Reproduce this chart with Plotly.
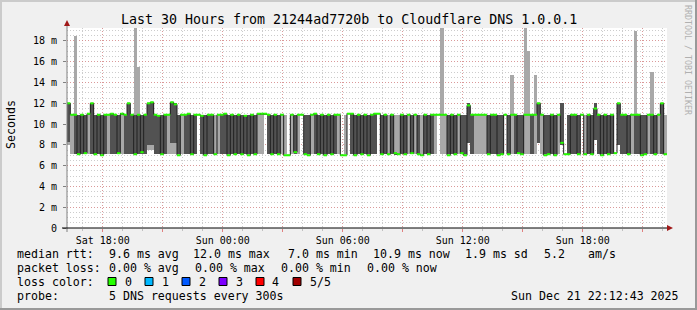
import plotly.graph_objects as go
from datetime import datetime, timedelta

# ---------------- data (10-minute steps) ----------------
rtt_min = [
    8.0, 7.1, 7.1, 7.1, 7.1, 7.1, 7.1, 7.1, 7.1, 7.1, 7.1, 7.1,
    7.1, 7.1, 7.1, 7.1, 7.1, 7.1, 7.1, 7.1, 7.1, 7.1, 7.1, 7.1,
    7.5, 7.5, 7.1, 7.1, 7.1, 7.1, 7.1, 7.1, 7.1, 7.1, 7.1, 7.1,
    7.1, 7.1, 7.1, 10.9, 7.1, 7.1, 7.1, 7.1, 7.1, 7.1, 7.1, 7.1,
    7.1, 7.1, 7.1, 7.1, 7.1, 7.1, 7.1, 7.1, 7.1, 7.1, 7.1, 10.9,
    7.1, 7.1, 7.1, 7.1, 7.1, 7.1, 7.0, 7.1, 7.1, 7.1, 10.9, 7.1,
    7.1, 7.1, 7.1, 7.1, 7.1, 7.1, 7.1, 7.1, 7.1, 7.1, 7.0, 7.1,
    11.0, 7.1, 7.1, 7.1, 7.1, 7.1, 7.1, 7.1, 7.1, 11.0, 7.1, 7.1,
    7.1, 7.1, 7.1, 7.1, 7.1, 7.1, 7.1, 7.1, 7.1, 7.1, 7.1, 7.1,
    7.1, 7.1, 7.1, 10.9, 7.1, 7.1, 7.1, 7.1, 7.1, 7.1, 7.1, 7.1,
    8.2, 7.1, 7.1, 7.1, 7.1, 7.1, 7.1, 7.1, 7.1, 7.1, 7.1, 10.9,
    7.1, 7.1, 7.1, 7.1, 7.1, 7.1, 7.1, 7.1, 7.1, 8.2, 7.1, 7.1,
    7.1, 7.1, 7.1, 7.1, 8.0, 7.1, 7.1, 7.1, 7.1, 7.1, 10.9, 7.1,
    7.1, 7.1, 8.5, 7.1, 7.1, 7.1, 7.1, 7.1, 7.2, 8.0, 7.1, 7.1,
    7.1, 7.1, 7.1, 7.1, 7.1, 7.1, 7.1, 7.1, 7.1, 7.1, 7.1, 7.1,
]
rtt_p2 = [
    8.3, 10.9, 7.1, 7.1, 7.1, 7.1, 10.9, 7.1, 7.1, 7.1, 7.1, 7.1,
    10.9, 7.1, 7.1, 7.1, 10.9, 7.1, 7.1, 7.1, 7.1, 7.1, 7.1, 7.1,
    8.0, 8.0, 7.1, 7.1, 7.1, 7.1, 10.9, 8.2, 8.2, 7.1, 10.9, 7.1,
    7.1, 7.1, 7.1, 10.9, 7.1, 7.1, 7.1, 7.1, 7.1, 10.9, 7.1, 7.1,
    7.1, 7.1, 7.1, 7.1, 7.1, 7.1, 7.1, 7.1, 7.1, 10.9, 10.9, 10.9,
    7.1, 7.1, 7.1, 7.1, 10.9, 7.1, 7.0, 10.9, 7.1, 10.9, 10.9, 7.1,
    7.1, 10.9, 7.1, 7.1, 7.1, 7.1, 7.1, 7.1, 7.1, 10.9, 7.0, 7.1,
    11.0, 7.1, 7.1, 7.1, 7.1, 7.1, 7.1, 7.1, 7.1, 11.0, 7.1, 7.1,
    7.1, 7.1, 7.1, 7.1, 7.1, 7.1, 10.9, 7.1, 10.9, 7.1, 7.1, 7.1,
    7.1, 7.1, 10.9, 10.9, 10.9, 10.9, 7.1, 7.1, 7.1, 10.9, 7.1, 7.1,
    8.2, 7.1, 10.9, 10.9, 10.9, 10.9, 7.1, 7.1, 7.1, 7.1, 7.1, 10.9,
    7.1, 10.9, 7.1, 7.1, 7.1, 10.9, 10.9, 7.1, 10.9, 8.2, 10.9, 7.1,
    7.1, 7.1, 7.1, 10.9, 8.0, 7.1, 7.1, 7.1, 7.1, 7.1, 10.9, 7.1,
    7.1, 7.1, 8.5, 7.1, 7.1, 7.1, 7.1, 7.1, 7.2, 8.0, 7.1, 7.1,
    7.1, 10.9, 7.1, 7.1, 7.1, 7.1, 10.9, 7.1, 7.1, 10.9, 7.1, 7.1,
]
rtt_median = [
    12.0, 10.9, 10.9, 7.1, 10.9, 7.2, 11.0, 12.0, 7.1, 10.9, 7.0, 10.9,
    10.9, 11.0, 10.9, 7.2, 11.0, 10.9, 12.0, 10.9, 7.1, 10.9, 7.3, 10.9,
    12.0, 12.1, 10.9, 10.8, 7.1, 10.9, 10.9, 12.1, 11.9, 7.0, 10.9, 10.9,
    11.0, 7.1, 10.9, 10.9, 10.8, 7.0, 10.9, 10.9, 7.1, 10.9, 10.9, 11.0,
    7.0, 10.9, 7.1, 10.9, 7.1, 10.8, 7.0, 10.9, 7.1, 11.0, 11.0, 11.0,
    10.9, 7.1, 10.9, 7.1, 10.9, 7.0, 7.0, 10.9, 7.3, 10.9, 10.9, 7.1,
    7.0, 10.9, 11.0, 7.1, 10.9, 7.0, 10.9, 7.1, 10.9, 10.9, 7.0, 7.0,
    11.0, 11.0, 7.0, 10.9, 7.1, 10.9, 7.0, 10.9, 11.0, 11.0, 7.1, 10.9,
    7.1, 10.9, 7.2, 7.1, 10.9, 7.1, 10.9, 7.2, 10.9, 7.1, 7.0, 10.9,
    7.1, 10.9, 10.9, 10.9, 10.9, 10.9, 7.0, 10.9, 7.1, 10.9, 7.2, 7.0,
    11.8, 10.9, 10.9, 10.9, 10.9, 10.9, 7.1, 10.9, 10.9, 7.0, 7.1, 10.9,
    7.1, 10.9, 10.9, 7.2, 7.1, 10.9, 10.9, 10.9, 10.9, 12.0, 10.9, 7.0,
    7.1, 10.9, 7.0, 10.9, 8.2, 7.1, 7.1, 10.9, 10.9, 7.1, 10.9, 7.1,
    10.9, 7.1, 11.5, 10.9, 7.0, 10.9, 7.1, 10.9, 7.2, 12.0, 10.9, 10.9,
    7.1, 10.9, 10.9, 10.9, 7.0, 7.1, 10.9, 10.9, 7.1, 10.9, 12.0, 7.1,
]
rtt_p4 = [
    12.0, 10.9, 10.9, 10.9, 10.9, 10.9, 11.0, 12.0, 10.9, 10.9, 10.9, 10.9,
    10.9, 11.0, 10.9, 10.9, 11.0, 10.9, 12.0, 10.9, 10.9, 10.9, 10.9, 10.9,
    12.0, 12.1, 10.9, 10.9, 10.9, 10.9, 10.9, 12.1, 12.0, 10.9, 10.9, 10.9,
    11.0, 10.9, 10.9, 10.9, 10.9, 10.9, 10.9, 10.9, 7.1, 10.9, 10.9, 11.0,
    10.9, 10.9, 10.9, 10.9, 10.9, 10.9, 10.9, 10.9, 10.9, 11.0, 11.0, 11.0,
    10.9, 10.9, 10.9, 10.9, 10.9, 7.1, 7.0, 10.9, 10.9, 10.9, 10.9, 10.9,
    10.9, 10.9, 11.0, 10.9, 10.9, 10.9, 10.9, 10.9, 10.9, 10.9, 7.0, 7.1,
    11.0, 11.0, 10.9, 10.9, 10.9, 10.9, 10.9, 10.9, 11.0, 11.0, 10.9, 10.9,
    7.1, 10.9, 7.2, 7.1, 10.9, 10.9, 10.9, 10.9, 10.9, 10.9, 7.1, 10.9,
    10.9, 10.9, 10.9, 10.9, 10.9, 10.9, 10.9, 10.9, 10.9, 10.9, 10.9, 10.9,
    12.0, 10.9, 10.9, 10.9, 10.9, 10.9, 10.9, 10.9, 10.9, 10.9, 10.9, 10.9,
    10.9, 10.9, 10.9, 10.9, 10.9, 10.9, 10.9, 10.9, 10.9, 12.0, 10.9, 10.9,
    10.9, 10.9, 10.9, 10.9, 12.0, 7.1, 10.9, 10.9, 10.9, 10.9, 10.9, 7.1,
    10.9, 10.9, 12.0, 10.9, 10.9, 10.9, 10.9, 10.9, 7.2, 12.0, 10.9, 10.9,
    10.9, 10.9, 10.9, 10.9, 10.9, 10.9, 10.9, 10.9, 10.9, 10.9, 12.0, 7.1,
]
rtt_max = [
    12.0, 11.0, 18.5, 10.9, 10.9, 10.9, 11.0, 12.0, 10.9, 10.9, 10.9, 10.9,
    10.9, 11.0, 10.9, 10.9, 11.0, 10.9, 12.0, 10.9, 19.3, 15.5, 10.9, 10.9,
    12.0, 12.1, 10.9, 10.9, 10.9, 10.9, 10.9, 12.1, 12.0, 10.9, 10.9, 10.9,
    11.0, 10.9, 10.9, 10.9, 10.9, 10.9, 10.9, 10.9, 10.9, 10.9, 10.9, 11.0,
    10.9, 10.9, 10.9, 10.9, 10.9, 10.9, 10.9, 10.9, 10.9, 11.0, 11.0, 11.0,
    10.9, 10.9, 10.9, 10.9, 10.9, 10.9, 7.0, 10.9, 10.9, 10.9, 10.9, 10.9,
    10.9, 10.9, 11.0, 10.9, 10.9, 10.9, 10.9, 10.9, 10.9, 10.9, 7.0, 10.9,
    11.0, 11.0, 10.9, 10.9, 10.9, 10.9, 10.9, 10.9, 11.0, 11.0, 10.9, 10.9,
    10.9, 10.9, 10.9, 10.9, 10.9, 10.9, 10.9, 10.9, 10.9, 10.9, 10.9, 10.9,
    10.9, 10.9, 10.9, 10.9, 19.3, 10.9, 10.9, 10.9, 10.9, 10.9, 10.9, 10.9,
    12.0, 10.9, 10.9, 10.9, 10.9, 10.9, 10.9, 10.9, 10.9, 10.9, 10.9, 10.9,
    10.9, 14.7, 10.9, 10.9, 10.9, 19.3, 17.0, 10.9, 14.7, 12.0, 10.9, 10.9,
    10.9, 10.9, 10.9, 10.9, 12.0, 7.1, 10.9, 10.9, 10.9, 10.9, 10.9, 10.9,
    10.9, 10.9, 12.0, 10.9, 10.9, 10.9, 10.9, 10.9, 7.2, 12.0, 10.9, 10.9,
    10.9, 10.9, 19.0, 10.9, 10.9, 10.9, 10.9, 15.0, 10.9, 10.9, 12.0, 10.9,
]
y_ticks = [0, 2, 4, 6, 8, 10, 12, 14, 16, 18]
y_ticktext = ["0", "2 m", "4 m", "6 m", "8 m", "10 m", "12 m", "14 m", "16 m", "18 m"]
x_label_times = ["2025-12-20 18:00", "2025-12-21 00:00", "2025-12-21 06:00",
                 "2025-12-21 12:00", "2025-12-21 18:00"]
x_labels = ["Sat 18:00", "Sun 00:00", "Sun 06:00", "Sun 12:00", "Sun 18:00"]
loss_labels = ["0", "1", "2", "3", "4", "5/5"]
loss_colors = ["#26ff00", "#00b8ff", "#0059ff", "#7e00ff", "#ff0000", "#a10000"]
title_text = "Last 30 Hours from 21244ad7720b to Cloudflare DNS 1.0.0.1"
stamp_text = "Sun Dec 21 22:12:43 2025"

# ---------------- build ----------------
t_end = datetime(2025, 12, 21, 22, 12, 43)
t_start = t_end - timedelta(hours=30)
STEP = timedelta(minutes=10)
n = len(rtt_median)
starts = [t_start + i * STEP for i in range(n)]
centers = [s + STEP / 2 for s in starts]
step_ms = STEP.total_seconds() * 1000

MONO = "DejaVu Sans Mono"
W, H = 697, 310
L, R, T, B = 67, 30, 28, 82
PW, PH = W - L - R, H - T - B


def ax(px):
    return (px - L) / PW


def ay(py):
    return (T + PH - py) / PH


fig = go.Figure()
fig.add_trace(go.Bar(x=centers, base=rtt_min, y=[b - a for a, b in zip(rtt_min, rtt_max)],
                     width=step_ms, marker=dict(color="#a8a8a8", line=dict(width=0)),
                     hoverinfo="skip"))
fig.add_trace(go.Bar(x=centers, base=rtt_p2, y=[b - a for a, b in zip(rtt_p2, rtt_p4)],
                     width=step_ms, marker=dict(color="#525252", line=dict(width=0)),
                     hoverinfo="skip"))
fig.add_trace(go.Scatter(x=starts + [t_end], y=rtt_median + [rtt_median[-1]], mode="lines",
                         line=dict(shape="hv", color="#202020", width=1), hoverinfo="skip"))
gx, gy = [], []
for s, m in zip(starts, rtt_median):
    gx += [s, s + STEP, None]
    gy += [m, m, None]
fig.add_trace(go.Scatter(x=gx, y=gy, mode="lines", line=dict(color=loss_colors[0], width=2),
                         hoverinfo="skip"))

# x grid: red every 3h (labels every 6h), grey every hour
grid_times, grid_text = [], []
t = datetime(2025, 12, 20, 18, 0)
while t <= t_end:
    grid_times.append(t)
    key = t.strftime("%Y-%m-%d %H:%M")
    grid_text.append(x_labels[x_label_times.index(key)] if key in x_label_times else "")
    t += timedelta(hours=3)

MAJOR = "rgba(235,90,90,0.45)"
MINOR = "rgba(170,170,170,0.6)"
fig.update_layout(
    width=W, height=H, margin=dict(l=L, r=R, t=T, b=B, pad=0),
    paper_bgcolor="#f0f0f0", plot_bgcolor="#ffffff",
    barmode="overlay", bargap=0, showlegend=False,
    font=dict(family=MONO, size=10, color="#000000"),
    xaxis=dict(type="date", range=[t_start, t_end], tickmode="array",
               tickvals=grid_times, ticktext=grid_text,
               showgrid=True, gridcolor=MAJOR, griddash="1px,2px", gridwidth=1,
               ticks="outside", ticklen=3, tickcolor="#e08080",
               minor=dict(tickmode="linear", tick0="2025-12-20 17:00", dtick=3600000,
                          showgrid=True, gridcolor=MINOR, griddash="1px,2px",
                          ticks="outside", ticklen=2, tickcolor="#c0c0c0"),
               showline=False, zeroline=False, tickfont=dict(family=MONO, size=10),
               fixedrange=True),
    yaxis=dict(range=[0, 19.25], tickmode="array", tickvals=y_ticks, ticktext=y_ticktext,
               showgrid=True, gridcolor=MAJOR, griddash="1px,2px", gridwidth=1,
               ticks="outside", ticklen=3, tickcolor="#808080",
               minor=dict(tickmode="linear", tick0=0, dtick=0.5, showgrid=True,
                          gridcolor=MINOR, griddash="1px,2px"),
               showline=False, zeroline=False, tickfont=dict(family=MONO, size=10),
               ticklabelstandoff=4, fixedrange=True),
)

shapes = []
# frame
shapes.append(dict(type="line", xref="paper", yref="paper", x0=ax(0), x1=ax(W), y0=ay(1), y1=ay(1),
                   line=dict(color="#cbcbcb", width=2)))
shapes.append(dict(type="line", xref="paper", yref="paper", x0=ax(1), x1=ax(1), y0=ay(0), y1=ay(H),
                   line=dict(color="#cbcbcb", width=2)))
shapes.append(dict(type="line", xref="paper", yref="paper", x0=ax(0), x1=ax(W), y0=ay(H - 1), y1=ay(H - 1),
                   line=dict(color="#999999", width=2)))
shapes.append(dict(type="line", xref="paper", yref="paper", x0=ax(W - 1), x1=ax(W - 1), y0=ay(0), y1=ay(H),
                   line=dict(color="#999999", width=2)))
# axes
shapes.append(dict(type="line", xref="paper", yref="paper", x0=0, x1=0, y0=ay(T + PH + 4), y1=ay(T - 4),
                   line=dict(color="#808080", width=1)))
shapes.append(dict(type="line", xref="paper", yref="paper", x0=ax(L - 5), x1=ax(L + PW + 2), y0=0, y1=0,
                   line=dict(color="#000000", width=1)))
shapes.append(dict(type="path", xref="paper", yref="paper",
                   path=f"M {ax(L-3)} {ay(T-2)} L {ax(L+3)} {ay(T-2)} L {ax(L)} {ay(T-8)} Z",
                   fillcolor="#a01818", line=dict(width=0)))
shapes.append(dict(type="path", xref="paper", yref="paper",
                   path=f"M {ax(L+PW)} {ay(T+PH-3)} L {ax(L+PW)} {ay(T+PH+3)} L {ax(L+PW+6)} {ay(T+PH)} Z",
                   fillcolor="#a01818", line=dict(width=0)))
# loss colour squares
sq_left = [108, 145, 182, 219, 256, 293]
for c, x0 in zip(loss_colors, sq_left):
    shapes.append(dict(type="rect", xref="paper", yref="paper", x0=ax(x0), x1=ax(x0 + 8),
                       y0=ay(285.5), y1=ay(277.5), fillcolor=c, line=dict(color="#000000", width=1)))
fig.update_layout(shapes=shapes)

ann = []


def text(s, px, py, size=11.6, anchor="left", color="#000000", angle=0):
    ann.append(dict(text=s, x=ax(px), y=ay(py), xref="paper", yref="paper", showarrow=False,
                    xanchor=anchor, yanchor="middle", textangle=angle,
                    font=dict(family=MONO, size=size, color=color)))


text(title_text, W / 2, 19.5, size=13.3, anchor="center")
text("Seconds", 11, 125, size=11.6, anchor="center", angle=-90)
text("RRDTOOL / TOBI OETIKER", 688, 60, size=8.3, anchor="center", color="#b0b0b0", angle=90)

row1 = [("median rtt:", 15), ("9.6 ms avg", 106.5), ("12.0 ms max", 190.5), ("7.0 ms min", 286),
        ("10.9 ms now", 370.5), ("1.9 ms sd", 462.5), ("5.2", 541.5), ("am/s", 586)]
row2 = [("packet loss:", 15), ("0.00 % avg", 106.5), ("0.00 % max", 192.5), ("0.00 % min", 278.5),
        ("0.00 % now", 364.5)]
for s, px in row1:
    text(s, px, 254)
for s, px in row2:
    text(s, px, 268)
text("loss color:", 15, 282)
for s, px in zip(loss_labels, [123, 159.5, 196.5, 233.5, 270, 307.5]):
    text(s, px, 282)
text("probe:", 15, 296)
text("5 DNS requests every 300s", 106.5, 296)
text(stamp_text, 681, 296, anchor="right")
fig.update_layout(annotations=ann)

fig.write_html("out.html")
